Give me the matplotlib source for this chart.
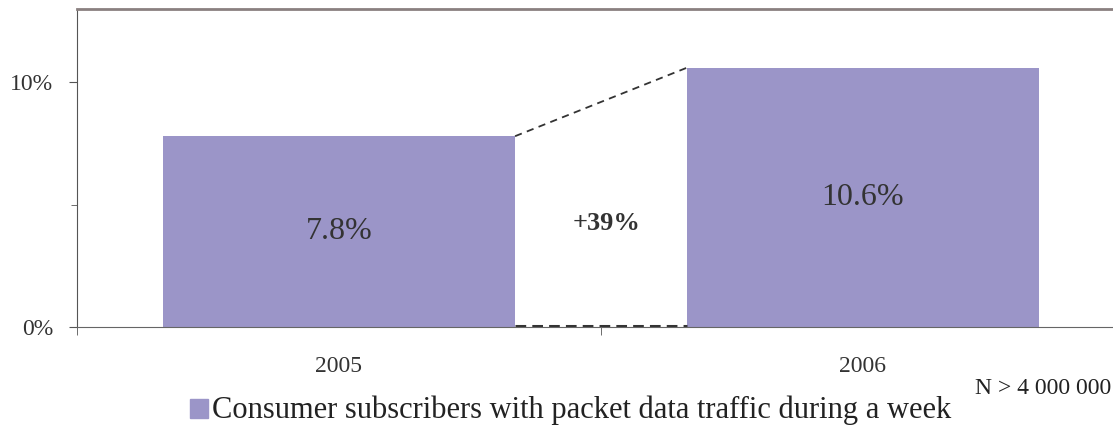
import matplotlib.pyplot as plt
from matplotlib.ticker import FixedLocator

years = ['2005', '2006']
share = [7.8, 10.6]
growth_label = '+39%'
legend_label = 'Consumer subscribers with packet data traffic during a week'
note = 'N > 4 000 000'

bar_color = '#9b95c8'
plt.rcParams['font.family'] = ['Liberation Serif', 'DejaVu Serif']

fig = plt.figure(figsize=(11.13, 4.25), dpi=100)
ax = fig.add_axes([77 / 1113, 98 / 425, 1048 / 1113, 318 / 425])

x = list(range(len(years)))
w = 0.672
ax.bar(x, share, width=w, color=bar_color, zorder=2)

# connector lines between the bars
ax.plot([x[0] + w / 2, x[1] - w / 2], [share[0], share[1]], color='#333333', lw=1.3, dashes=(4, 3))
ax.plot([x[0] + w / 2, x[1] - w / 2], [0.06, 0.06], color='#333333', lw=2.2, dashes=(3.5, 2))
ax.text(0.51, 4.24, growth_label, ha='center', va='center', fontsize=19, fontweight='bold', color='#333333')

for xi, v in zip(x, share):
    ax.text(xi, v / 2, f'{v}%', ha='center', va='center', fontsize=23, color='#333333')

ax.set_xlim(-0.5, 1.5)
ax.set_ylim(0, 13)
ax.set_yticks([0, 10])
ax.set_yticklabels(['0%', '10%'], fontsize=17, color='#333333')
ax.yaxis.set_minor_locator(FixedLocator([5]))
ax.tick_params(axis='y', which='major', length=6, color='#555555', pad=11)
ax.tick_params(axis='y', which='minor', length=4, color='#555555')

ax.set_xticks(x)
ax.set_xticklabels(years, fontsize=17, color='#333333')
ax.tick_params(axis='x', which='major', length=0, pad=21)
ax.xaxis.set_minor_locator(FixedLocator([-0.5, 0.5]))
ax.tick_params(axis='x', which='minor', length=6, color='#555555')

ax.spines['left'].set_color('#555555')
ax.spines['bottom'].set_color('#666666')
ax.spines['top'].set_color('#8a8080')
ax.spines['top'].set_linewidth(2)
ax.spines['right'].set_visible(False)

fig.patches.append(plt.Rectangle((190 / 1113, 7 / 425), 18 / 1113, 19 / 425,
                                 transform=fig.transFigure, color=bar_color))
fig.text(212 / 1113, 7 / 425, legend_label, fontsize=22, va='baseline', color='#222222')
fig.text(1111 / 1113, 37 / 425, note, fontsize=17, ha='right', va='center', color='#222222')

fig.savefig('out.png', dpi=100)
